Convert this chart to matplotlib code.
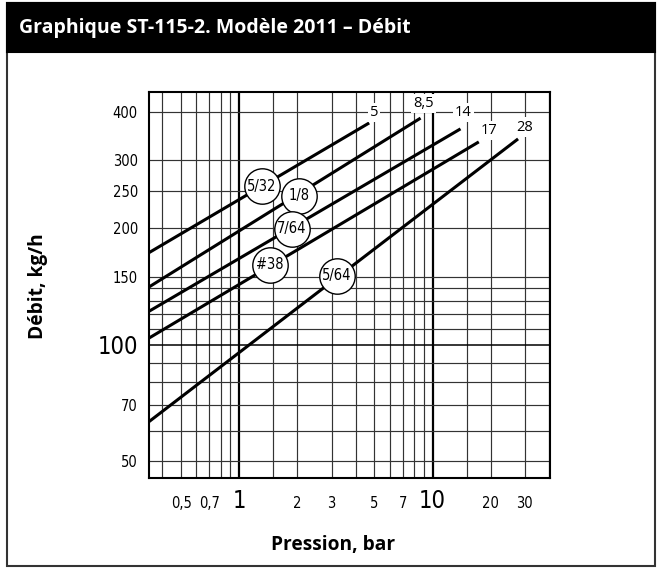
import numpy as np
import matplotlib
matplotlib.use('Agg')
import matplotlib.pyplot as plt
import matplotlib.font_manager as fm
from matplotlib.patches import Rectangle
from matplotlib.ticker import NullLocator

# ---- data (pression bar / debit kg/h) ----
orifices = ['5/32', '1/8', '7/64', '#38', '5/64']
p_start = [0.34, 0.34, 0.34, 0.34, 0.34]
q_start = [173, 141, 122, 104, 63.2]
p_end = [4.7, 8.67, 13.95, 17.35, 27.7]
q_end = [375, 386, 362, 335, 341]

# circle tags on each line
tag_p = [1.306, 2.04, 1.866, 1.441, 3.21]
tag_q = [257, 243, 199.4, 161, 151.1]

# max pressure labels at the top end of the lines
max_labels = ['5', '8,5', '14', '17', '28']
max_p = [4.97, 9.0, 14.4, 19.6, 30]
max_q = [400, 421, 400, 359, 366]

x_ticks = [0.5, 0.7, 1, 2, 3, 5, 7, 10, 20, 30]
x_ticklabels = ['0,5', '0,7', '1', '2', '3', '5', '7', '10', '20', '30']
y_ticks = [50, 70, 100, 150, 200, 250, 300, 400]
y_ticklabels = ['50', '70', '100', '150', '200', '250', '300', '400']
x_grid = [0.4, 0.5, 0.6, 0.7, 0.8, 0.9, 1, 1.5, 2, 3, 4, 5, 6, 7, 8, 9, 10, 15, 20, 30, 40]
y_grid = [50, 60, 70, 80, 90, 100, 110, 120, 130, 140, 150, 200, 250, 300, 400]
big = ['1', '10', '100']

fonts = fm.fontManager.ttflist
names = {f.name for f in fonts}
has_cond = any(f.name == 'DejaVu Sans' and f.stretch == 'condensed' for f in fonts)
narrow = dict(family='DejaVu Sans', stretch='condensed')
sans = 'Open Sans' if 'Open Sans' in names else 'DejaVu Sans'

fig = plt.figure(figsize=(6.61, 5.72), dpi=100)

# outer frame + black title band
fig.patches.append(Rectangle((0.0106, 0.0105), 0.9804, 0.9843, transform=fig.transFigure,
                             fill=False, ec='#333333', lw=1.5))
fig.patches.append(Rectangle((0.0106, 0.909), 0.9804, 0.0858, transform=fig.transFigure,
                             fc='black', ec='black', lw=1.5))
fig.text(0.028, 0.951, 'Graphique ST-115-2. Modèle 2011 – Débit', color='white',
         fontsize=14, fontweight='bold', family=sans, ha='left', va='center')

ax = fig.add_axes([0.2254, 0.1635, 0.6066, 0.6757])
ax.set_xscale('log')
ax.set_yscale('log')
ax.set_xlim(0.341, 40.5)
ax.set_ylim(45.1, 451)

for x in x_grid:
    thick = x in (1, 10)
    ax.axvline(x, color='black' if thick else '#333333', lw=1.6 if thick else 0.85, zorder=1)
for y in y_grid:
    thick = y == 100
    ax.axhline(y, color='black' if thick else '#333333', lw=1.1 if thick else 0.85, zorder=1)

circle_fs = 10.5 if has_cond else 9
for i in range(len(orifices)):
    ax.plot([p_start[i], p_end[i]], [q_start[i], q_end[i]], color='black', lw=2.2,
            solid_capstyle='butt', zorder=3)
    ax.scatter(tag_p[i], tag_q[i], s=650, facecolor='white', edgecolor='black',
               linewidths=1.0, zorder=4)
    ax.text(tag_p[i], tag_q[i], orifices[i], ha='center', va='center', fontsize=circle_fs,
            zorder=5, **narrow)
    ax.text(max_p[i], max_q[i], max_labels[i], ha='center', va='center', fontsize=10.5,
            family=sans, zorder=5,
            bbox=dict(fc='white', ec='none', pad=1.5))

ax.xaxis.set_minor_locator(NullLocator())
ax.yaxis.set_minor_locator(NullLocator())
ax.set_xticks(x_ticks)
ax.set_xticklabels(x_ticklabels)
ax.set_yticks(y_ticks)
ax.set_yticklabels(y_ticklabels)
ax.tick_params(axis='both', length=0)
ax.tick_params(axis='x', pad=21)
ax.tick_params(axis='y', pad=8)
for lab in ax.get_xticklabels() + ax.get_yticklabels():
    lab.set_family('DejaVu Sans')
    lab.set_stretch('condensed')
    lab.set_fontsize(17 if lab.get_text() in big else (10.5 if has_cond else 9.5))
for lab in ax.get_xticklabels():
    lab.set_va('baseline')

for s in ax.spines.values():
    s.set_linewidth(1.5)
    s.set_zorder(6)

fig.text(0.057, 0.5, 'Débit, kg/h', rotation=90, ha='center', va='center',
         fontsize=13.8, fontweight='bold', family=sans)
fig.text(0.504, 0.047, 'Pression, bar', ha='center', va='center',
         fontsize=13.8, fontweight='bold', family=sans)

fig.savefig('out.png', dpi=100)
